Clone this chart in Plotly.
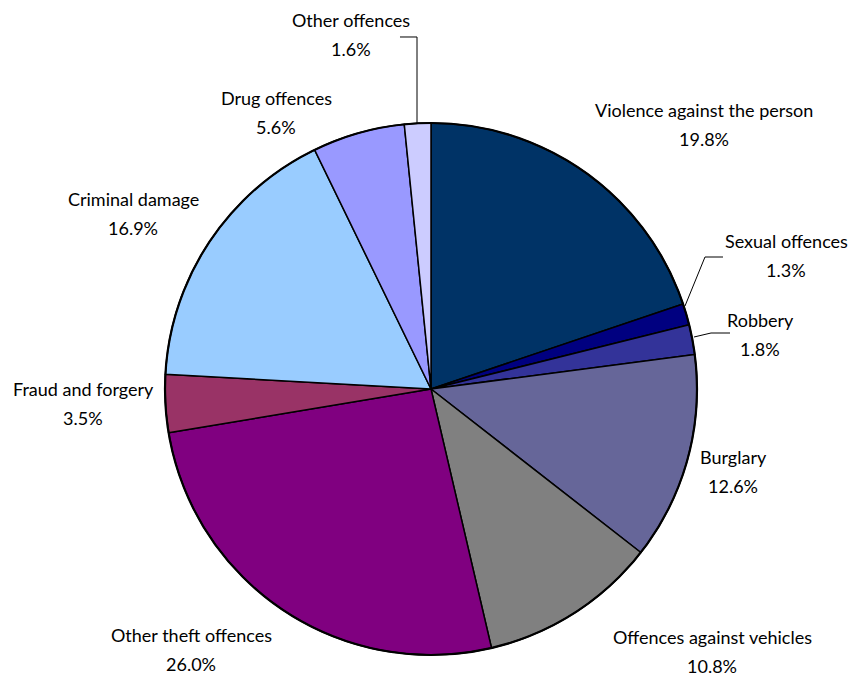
import plotly.graph_objects as go

# Offence categories, clockwise from 12 o'clock
categories = [
    "Violence against the person",
    "Sexual offences",
    "Robbery",
    "Burglary",
    "Offences against vehicles",
    "Other theft offences",
    "Fraud and forgery",
    "Criminal damage",
    "Drug offences",
    "Other offences",
]
shares = [19.8, 1.3, 1.8, 12.6, 10.8, 26.0, 3.5, 16.9, 5.6, 1.6]
colors = [
    "#003366", "#000080", "#333399", "#666699", "#808080",
    "#800080", "#993366", "#99CCFF", "#9999FF", "#CCCCFF",
]

W, H = 852, 679
# pie placement in pixels: centre and radius
cx, cy, r = 431, 389, 266

# label centres (pixels) for each category
label_x = [704, 786, 760, 733, 712, 191, 83, 133, 276, 351]
label_y = [110, 241, 320, 457, 637, 635, 389, 199, 98, 20]
line_gap = 29

FONT = "Lato, 'Gill Sans', sans-serif"
FSIZE = 18

fig = go.Figure()
fig.add_trace(go.Pie(
    labels=categories,
    values=shares,
    sort=False,
    direction="clockwise",
    rotation=0,
    textinfo="none",
    hoverinfo="label+value",
    marker=dict(colors=colors, line=dict(color="black", width=1.5)),
    domain=dict(x=[(cx - r) / W, (cx + r) / W],
                y=[(H - cy - r) / H, (H - cy + r) / H]),
    showlegend=False,
))


def px(x):
    return x / W


def py(y):
    return 1 - y / H


annotations = []
for name, val, x, y in zip(categories, shares, label_x, label_y):
    annotations.append(dict(x=px(x), y=py(y), xref="paper", yref="paper",
                            text=name, showarrow=False,
                            xanchor="center", yanchor="middle",
                            font=dict(family=FONT, size=FSIZE, color="black")))
    annotations.append(dict(x=px(x), y=py(y + line_gap), xref="paper", yref="paper",
                            text=f"{val:.1f}%", showarrow=False,
                            xanchor="center", yanchor="middle",
                            font=dict(family=FONT, size=FSIZE, color="black")))

# leader lines for the thin slices
leaders = [
    [(417, 123), (417, 37), (400, 37)],
    [(685, 306), (705, 257), (723, 257)],
    [(694, 337), (711, 333), (730, 333)],
]
shapes = []
for pts in leaders:
    path = "M " + " L ".join(f"{px(x):.5f},{py(y):.5f}" for x, y in pts)
    shapes.append(dict(type="path", path=path, xref="paper", yref="paper",
                       line=dict(color="black", width=1)))

# heavier outer rim
shapes.append(dict(type="circle", xref="paper", yref="paper",
                   x0=px(cx - r), x1=px(cx + r), y0=py(cy + r), y1=py(cy - r),
                   line=dict(color="black", width=2.2)))

fig.update_layout(
    width=W, height=H,
    margin=dict(l=0, r=0, t=0, b=0),
    paper_bgcolor="white",
    plot_bgcolor="white",
    annotations=annotations,
    shapes=shapes,
)

fig.write_html("out.html")
